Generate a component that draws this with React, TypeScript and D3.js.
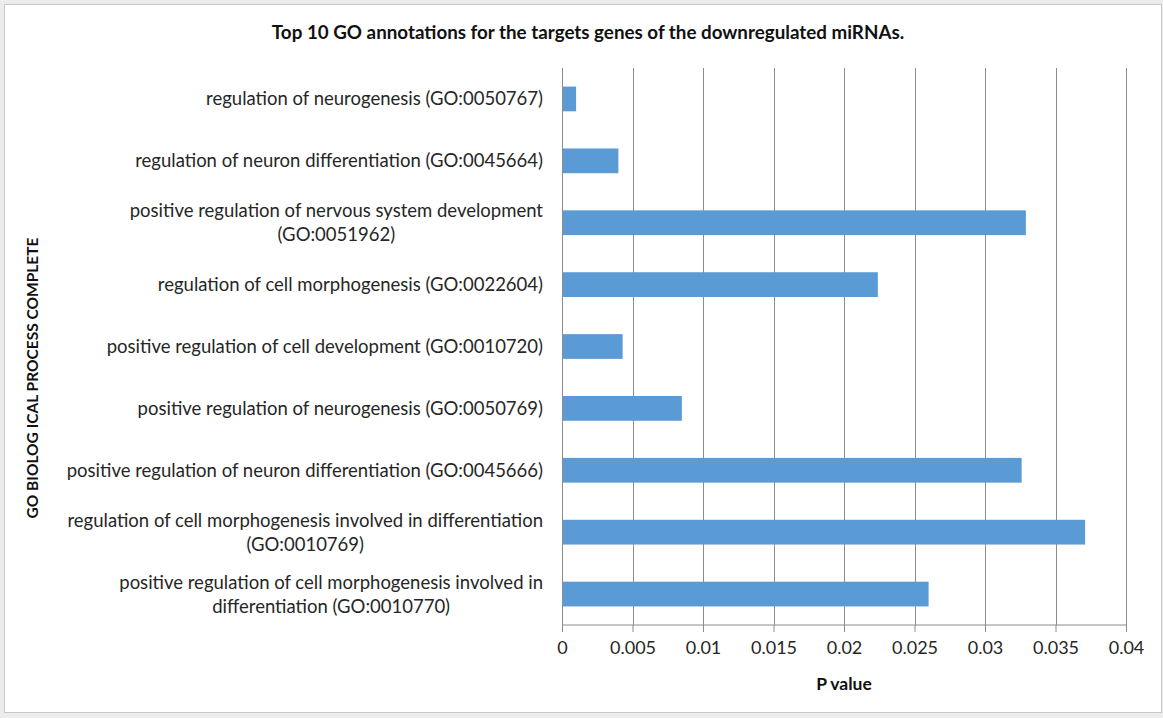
import React, { useEffect, useRef } from 'react'
import * as d3 from 'd3'

// GO terms, top to bottom ("\n" marks the line break used in the chart)
const categories: string[] = [
  'regulation of neurogenesis (GO:0050767)',
  'regulation of neuron differentiation (GO:0045664)',
  'positive regulation of nervous system development\n(GO:0051962)',
  'regulation of cell morphogenesis (GO:0022604)',
  'positive regulation of cell development (GO:0010720)',
  'positive regulation of neurogenesis (GO:0050769)',
  'positive regulation of neuron differentiation (GO:0045666)',
  'regulation of cell morphogenesis involved in differentiation\n(GO:0010769)',
  'positive regulation of cell morphogenesis involved in\ndifferentiation (GO:0010770)',
]

const pValues: number[] = [0.001, 0.004, 0.0329, 0.0224, 0.0043, 0.0085, 0.0326, 0.0371, 0.026]

const xTicks: number[] = [0, 0.005, 0.01, 0.015, 0.02, 0.025, 0.03, 0.035, 0.04]

const title = 'Top 10 GO annotations for the targets genes of the downregulated miRNAs.'
const xTitle = 'P value'
const yTitle = 'GO BIOLOG ICAL PROCESS COMPLETE'

const width = 1163
const height = 718
const margin = { top: 68, right: 37, bottom: 93, left: 562 }
const font = 'Lato, "Open Sans", sans-serif'

const App: React.FC = () => {
  const ref = useRef<SVGSVGElement>(null)

  useEffect(() => {
    const svg = d3.select(ref.current)
    svg.selectAll('*').remove()

    const innerW = width - margin.left - margin.right
    const innerH = height - margin.top - margin.bottom

    const x = d3.scaleLinear().domain([0, 0.04]).range([0, innerW])
    const y = d3.scaleBand().domain(categories).range([0, innerH]).paddingInner(0.6).paddingOuter(0.3)

    // frame
    svg.append('rect').attr('width', width).attr('height', height).attr('fill', '#ececec')
    svg.append('rect')
      .attr('x', 4.5).attr('y', 4.5).attr('width', width - 6).attr('height', height - 10)
      .attr('fill', '#fff').attr('stroke', '#c8c8c8')

    const g = svg.append('g').attr('transform', `translate(${margin.left},${margin.top})`)

    // vertical gridlines
    g.selectAll('line.grid')
      .data(xTicks.slice(1))
      .join('line')
      .attr('class', 'grid')
      .attr('x1', d => Math.round(x(d)) + 0.5)
      .attr('x2', d => Math.round(x(d)) + 0.5)
      .attr('y1', 0)
      .attr('y2', innerH)
      .attr('stroke', '#8c8c8c')
      .attr('stroke-width', 1)

    // bars
    g.selectAll('rect.bar')
      .data(pValues)
      .join('rect')
      .attr('class', 'bar')
      .attr('x', 0)
      .attr('y', (_, i) => y(categories[i]) as number)
      .attr('width', d => x(d))
      .attr('height', y.bandwidth())
      .attr('fill', '#5b9bd5')

    // x axis
    const xAxis = d3.axisBottom(x).tickValues(xTicks).tickSize(7).tickPadding(9)
      .tickFormat(d => String(+d))
    const ax = g.append('g').attr('transform', `translate(0,${innerH})`).call(xAxis)
    ax.select('.domain').attr('stroke', '#8c8c8c').attr('d', `M0.5,0H${innerW + 0.5}`)
    ax.selectAll('.tick line').attr('stroke', '#8c8c8c')
    ax.selectAll('.tick text').attr('font-family', font).attr('font-size', 18).attr('fill', '#262626')

    // y axis line
    g.append('line')
      .attr('x1', 0.5).attr('x2', 0.5).attr('y1', 0).attr('y2', innerH + 7)
      .attr('stroke', '#8c8c8c')

    // category labels: lines centred, block right-aligned at the axis
    const labelRight = margin.left - 19
    const lineH = 24
    categories.forEach((cat, i) => {
      const lines = cat.split('\n')
      const cy = margin.top + (y(cat) as number) + y.bandwidth() / 2
      const t = svg.append('text')
        .attr('font-family', font)
        .attr('font-size', 18.5)
        .attr('fill', '#262626')
        .attr('text-anchor', 'middle')
      const spans = lines.map((ln, j) =>
        t.append('tspan')
          .attr('y', cy + (j - (lines.length - 1) / 2) * lineH)
          .attr('dy', '0.35em')
          .text(ln)
      )
      const maxW = d3.max(spans, s => (s.node() as SVGTSpanElement).getComputedTextLength()) || 0
      spans.forEach(s => s.attr('x', labelRight - maxW / 2))
    })

    // titles
    svg.append('text')
      .attr('x', 588).attr('y', 39)
      .attr('text-anchor', 'middle')
      .attr('font-family', font).attr('font-size', 18.8).attr('font-weight', 'bold').attr('fill', '#111')
      .text(title)

    svg.append('text')
      .attr('x', 844).attr('y', 690)
      .attr('text-anchor', 'middle')
      .attr('font-family', font).attr('font-size', 17.5).attr('font-weight', 'bold').attr('fill', '#111')
      .text(xTitle)

    svg.append('text')
      .attr('transform', `translate(38,${378}) rotate(-90)`)
      .attr('text-anchor', 'middle')
      .attr('font-family', font).attr('font-size', 15.5).attr('font-weight', 'bold').attr('fill', '#111')
      .text(yTitle)
  }, [])

  return (
    <svg
      ref={ref}
      width={width}
      height={height}
      style={{ position: 'absolute', left: 0, top: 0, display: 'block' }}
    />
  )
}

export default App
